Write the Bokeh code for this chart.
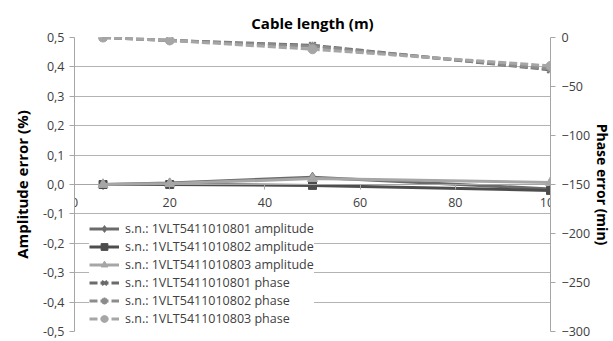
from bokeh.plotting import figure
from bokeh.models import Range1d, LinearAxis, FixedTicker, Legend, LegendItem, Title
from bokeh.embed import file_html
from bokeh.resources import INLINE

# ---- data ----
cable_length = [6, 20, 50, 100]
amp_801 = [0.0, 0.005, 0.025, -0.015]
amp_802 = [0.0, 0.0, -0.003, -0.02]
amp_803 = [0.0, 0.003, 0.02, 0.007]
ph_801 = [0.0, -3.0, -8.0, -33.0]
ph_802 = [0.0, -3.0, -9.0, -32.0]
ph_803 = [0.0, -3.0, -12.0, -29.0]

names = ["s.n.: 1VLT5411010801", "s.n.: 1VLT5411010802", "s.n.: 1VLT5411010803"]

x_ticks = [0, 20, 40, 60, 80, 100]
amp_ticks = [0.5, 0.4, 0.3, 0.2, 0.1, 0.0, -0.1, -0.2, -0.3, -0.4, -0.5]
amp_tick_labels = ["0,5", "0,4", "0,3", "0,2", "0,1", "0,0", "-0,1", "-0,2", "-0,3", "-0,4", "-0,5"]
phase_ticks = [0, -50, -100, -150, -200, -250, -300]

FONT = "Open Sans"
TXT = "#404040"
AX = "#a6a6a6"

p = figure(frame_width=476, frame_height=294, output_backend="svg", toolbar_location=None,
           x_range=Range1d(0, 100), y_range=Range1d(-0.5, 0.5),
           min_border_left=74, min_border_right=56, min_border_top=37, min_border_bottom=8)
p.outline_line_color = None
p.background_fill_color = "white"
p.border_fill_color = "white"

p.title = Title(text="Cable length (m)", align="center", text_font=FONT,
                text_font_size="15px", text_font_style="bold", text_color="black")

p.extra_y_ranges = {"phase": Range1d(-300, 0)}

# x axis at y=0
xa = p.xaxis[0]
xa.fixed_location = 0
xa.ticker = FixedTicker(ticks=x_ticks)
xa.axis_line_color = AX
xa.major_tick_line_color = AX
xa.major_tick_in = 0
xa.major_tick_out = 5
xa.minor_tick_line_color = None
xa.major_label_text_font = FONT
xa.major_label_text_font_size = "12.5px"
xa.major_label_text_color = TXT
xa.major_label_standoff = 8

# left axis
ya = p.yaxis[0]
ya.ticker = FixedTicker(ticks=amp_ticks)
ya.major_label_overrides = {t: l for t, l in zip(amp_ticks, amp_tick_labels)}
ya.axis_line_color = AX
ya.major_tick_line_color = AX
ya.major_tick_in = 0
ya.major_tick_out = 5
ya.minor_tick_line_color = None
ya.major_label_text_font = FONT
ya.major_label_text_font_size = "12.5px"
ya.major_label_text_color = TXT
ya.major_label_standoff = 5
ya.axis_label = "Amplitude error (%)"
ya.axis_label_text_font = FONT
ya.axis_label_text_font_size = "15px"
ya.axis_label_text_font_style = "bold"
ya.axis_label_text_color = "black"
ya.axis_label_standoff = 8

# right axis
ra = LinearAxis(y_range_name="phase", ticker=FixedTicker(ticks=phase_ticks))
ra.axis_line_color = AX
ra.major_tick_line_color = AX
ra.major_tick_in = 0
ra.major_tick_out = 5
ra.minor_tick_line_color = None
ra.major_label_text_font = FONT
ra.major_label_text_font_size = "12.5px"
ra.major_label_text_color = TXT
ra.major_label_standoff = 6
ra.axis_label = "Phase error (min)"
ra.axis_label_text_font = FONT
ra.axis_label_text_font_size = "14px"
ra.axis_label_text_font_style = "bold"
ra.axis_label_text_color = "black"
ra.axis_label_standoff = 0
p.add_layout(ra, "right")

p.xgrid.grid_line_color = None
p.ygrid.ticker = FixedTicker(ticks=amp_ticks)
p.ygrid.grid_line_color = "#b3b3b3"
p.ygrid.grid_line_width = 1

items = []

def add(x, y, color, marker, label, dashed=False, rng="default", msize=9):
    kw = {} if rng == "default" else {"y_range_name": rng}
    ln = p.line(x, y, line_color=color, line_width=3,
                line_dash="8 3" if dashed else "solid", **kw)
    hollow = marker in ("x", "asterisk")
    sc = p.scatter(x, y, marker=marker, size=msize, line_color=color,
                   fill_color=color, line_width=2 if hollow else 1, **kw)
    items.append(LegendItem(label=label, renderers=[ln, sc]))

add(cable_length, amp_801, "#6b6b6b", "diamond", names[0] + " amplitude", msize=10)
add(cable_length, amp_802, "#4d4d4d", "square", names[1] + " amplitude", msize=8)
add(cable_length, amp_803, "#a6a6a6", "triangle", names[2] + " amplitude", msize=10)
add(cable_length, ph_801, "#6b6b6b", "x", names[0] + " phase", dashed=True, rng="phase")
add(cable_length, ph_802, "#8c8c8c", "asterisk", names[1] + " phase", dashed=True, rng="phase")
add(cable_length, ph_803, "#a6a6a6", "circle", names[2] + " phase", dashed=True, rng="phase")

leg = Legend(items=items, location=(15, 4), padding=6, margin=0, spacing=1,
             glyph_width=30, glyph_height=17, label_height=17, label_standoff=6,
             label_text_font=FONT, label_text_font_size="12.5px", label_text_color=TXT,
             background_fill_color="white", background_fill_alpha=1.0,
             border_line_color=None)
p.add_layout(leg)

open("out.html", "w").write(file_html(p, INLINE))
